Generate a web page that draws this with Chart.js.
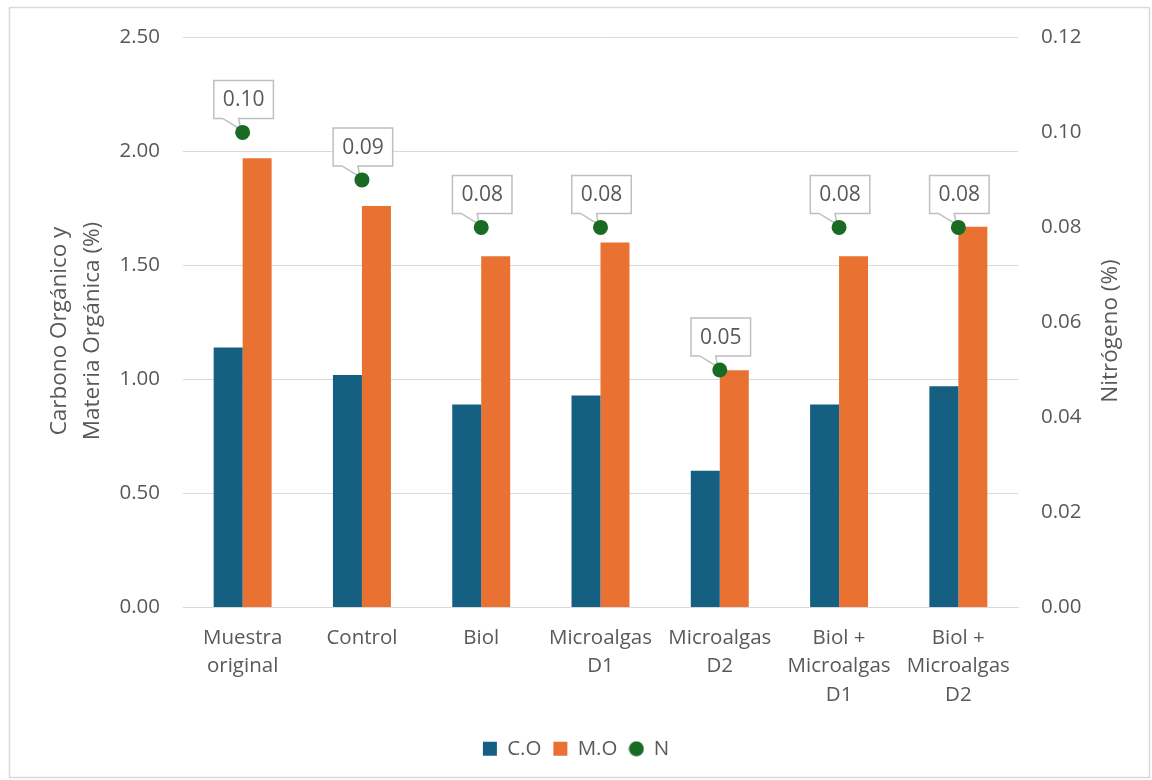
<!DOCTYPE html>
<html>
<head>
<meta charset="utf-8">
<script src="https://cdn.jsdelivr.net/npm/chart.js@4"></script>
<style>
  html, body { margin: 0; padding: 0; background: #fff; }
</style>
</head>
<body>
<canvas id="chart" width="1152" height="780"></canvas>
<script>
// data
const categories = [
  ['Muestra', 'original'], 'Control', 'Biol', ['Microalgas', 'D1'], ['Microalgas', 'D2'],
  ['Biol +', 'Microalgas', 'D1'], ['Biol +', 'Microalgas', 'D2']
];
const carbonoOrganico = [1.14, 1.02, 0.89, 0.93, 0.60, 0.89, 0.97];
const materiaOrganica = [1.97, 1.76, 1.54, 1.60, 1.04, 1.54, 1.67];
const nitrogeno = [0.10, 0.09, 0.08, 0.08, 0.05, 0.08, 0.08];
const seriesNames = ['C.O', 'M.O', 'N'];
const leftTitle = ['Carbono Orgánico y', 'Materia Orgánica (%)'];
const rightTitle = 'Nitrógeno (%)';

const TEXT = '#595959';
const GRID = '#d9d9d9';
const TICK_FONT = { family: '"Open Sans", sans-serif', size: 20.5, lineHeight: 1.4 };
const TITLE_FONT = '22.5px "Open Sans", sans-serif';

// small green dot for the legend
const legendDot = document.createElement('canvas');
legendDot.width = 16; legendDot.height = 16;
(function () {
  const c = legendDot.getContext('2d');
  c.fillStyle = '#196b24';
  c.beginPath(); c.arc(8, 8, 7.5, 0, Math.PI * 2); c.fill();
})();

const frame = {
  id: 'frame',
  beforeInit(chart) {
    // the original font runs a bit wider than Open Sans
    chart.ctx.letterSpacing = '0.7px';
  },
  beforeDraw(chart) {
    const ctx = chart.ctx;
    ctx.save();
    ctx.strokeStyle = GRID;
    ctx.lineWidth = 1.5;
    ctx.strokeRect(9.5, 7.5, 1140, 770);
    ctx.restore();
  },
  afterDraw(chart) {
    const ctx = chart.ctx;
    const cy = 331;
    ctx.save();
    ctx.fillStyle = TEXT;
    ctx.font = TITLE_FONT;
    ctx.textAlign = 'center';
    ctx.textBaseline = 'middle';
    ctx.translate(60, cy); ctx.rotate(-Math.PI / 2);
    ctx.fillText(leftTitle[0], 0, 0);
    ctx.fillText(leftTitle[1], 0, 33);
    ctx.restore();
    ctx.save();
    ctx.fillStyle = TEXT;
    ctx.font = TITLE_FONT;
    ctx.textAlign = 'center';
    ctx.textBaseline = 'middle';
    ctx.translate(1111, cy); ctx.rotate(-Math.PI / 2);
    ctx.fillText(rightTitle, 0, 0);
    ctx.restore();
  }
};

// callout boxes for the N labels, drawn just before the points
const callouts = {
  id: 'callouts',
  beforeDatasetDraw(chart, args) {
    if (args.index !== 2) return;
    const ctx = chart.ctx;
    const ds = chart.data.datasets[2];
    ctx.save();
    ctx.font = '21px "Open Sans", sans-serif';
    args.meta.data.forEach((pt, i) => {
      const txt = ds.data[i].toFixed(2);
      const w = ctx.measureText(txt).width + 18;
      const h = 38;
      const cx = pt.x + 1;
      const bottom = pt.y - 14;
      const left = cx - w / 2, top = bottom - h, right = cx + w / 2;
      ctx.beginPath();
      ctx.moveTo(left, top);
      ctx.lineTo(right, top);
      ctx.lineTo(right, bottom);
      ctx.lineTo(cx - 5, bottom);
      ctx.lineTo(pt.x - 2, pt.y - 3);
      ctx.lineTo(cx - 21, bottom);
      ctx.lineTo(left, bottom);
      ctx.closePath();
      ctx.fillStyle = '#fff';
      ctx.fill();
      ctx.strokeStyle = '#bfbfbf';
      ctx.lineWidth = 1.5;
      ctx.stroke();
      ctx.fillStyle = TEXT;
      ctx.textAlign = 'center';
      ctx.textBaseline = 'middle';
      ctx.fillText(txt, cx, top + h / 2 + 1);
    });
    ctx.restore();
  }
};

new Chart(document.getElementById('chart'), {
  type: 'bar',
  data: {
    labels: categories,
    datasets: [
      {
        label: seriesNames[0],
        data: carbonoOrganico,
        backgroundColor: '#156082',
        yAxisID: 'y',
        barPercentage: 1,
        categoryPercentage: 0.486
      },
      {
        label: seriesNames[1],
        data: materiaOrganica,
        backgroundColor: '#e97132',
        yAxisID: 'y',
        barPercentage: 1,
        categoryPercentage: 0.486
      },
      {
        type: 'line',
        label: seriesNames[2],
        data: nitrogeno,
        yAxisID: 'y1',
        showLine: false,
        pointRadius: 7.5,
        pointHoverRadius: 7.5,
        pointBackgroundColor: '#196b24',
        pointBorderWidth: 0,
        borderColor: '#196b24',
        backgroundColor: '#196b24',
        order: -1
      }
    ]
  },
  options: {
    responsive: false,
    animation: false,
    layout: { padding: { left: 0, right: 0, top: 36, bottom: 11 } },
    scales: {
      x: {
        grid: { display: false, drawTicks: false },
        border: { color: GRID, width: 1 },
        ticks: { color: TEXT, font: TICK_FONT, padding: 16, maxRotation: 0, autoSkip: false },
        afterFit(s) { s.height = 119; }
      },
      y: {
        position: 'left',
        min: 0, max: 2.5,
        ticks: { stepSize: 0.5, color: TEXT, font: TICK_FONT, padding: 23, callback: v => v.toFixed(2) },
        grid: { color: GRID, lineWidth: 1, drawTicks: false },
        border: { display: false },
        afterFit(s) { s.width = 183; }
      },
      y1: {
        position: 'right',
        min: 0, max: 0.12,
        ticks: { stepSize: 0.02, color: TEXT, font: TICK_FONT, padding: 23, callback: v => v.toFixed(2) },
        grid: { display: false, drawTicks: false },
        border: { display: false },
        afterFit(s) { s.width = 134; }
      }
    },
    plugins: {
      tooltip: { enabled: false },
      legend: {
        position: 'bottom',
        labels: {
          color: TEXT,
          font: TICK_FONT,
          usePointStyle: true,
          boxWidth: 14,
          boxHeight: 14,
          padding: 12,
          sort: (a, b) => a.datasetIndex - b.datasetIndex,
          generateLabels(chart) {
            const items = Chart.defaults.plugins.legend.labels.generateLabels(chart);
            items.forEach(it => {
              it.pointStyle = it.datasetIndex === 2 ? legendDot : 'rect';
              it.lineWidth = 0;
            });
            return items;
          }
        }
      }
    }
  },
  plugins: [frame, callouts]
});
</script>
</body>
</html>
